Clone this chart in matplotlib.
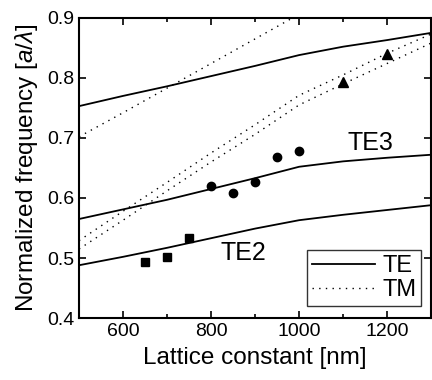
import matplotlib
matplotlib.use("Agg")
import matplotlib.pyplot as plt
from matplotlib.ticker import MultipleLocator

plt.rcParams['font.family'] = ['Liberation Sans', 'DejaVu Sans']
plt.rcParams['mathtext.fontset'] = 'custom'
plt.rcParams['mathtext.rm'] = 'Liberation Sans'
plt.rcParams['mathtext.it'] = 'Liberation Sans:italic'

# Calculated bands (lattice constant in nm)
lattice = [500, 600, 700, 800, 900, 1000, 1100, 1200, 1300]
te_upper = [0.753, 0.770, 0.786, 0.803, 0.820, 0.838, 0.852, 0.863, 0.875]
te3 = [0.565, 0.581, 0.597, 0.615, 0.633, 0.652, 0.661, 0.667, 0.672]
te2 = [0.488, 0.502, 0.517, 0.533, 0.549, 0.563, 0.572, 0.580, 0.588]

tm_top_x = [500, 600, 700, 800, 900, 1000]
tm_top = [0.702, 0.742, 0.783, 0.824, 0.865, 0.906]
tm_a = [0.529, 0.578, 0.626, 0.675, 0.722, 0.771, 0.805, 0.841, 0.873]
tm_b = [0.515, 0.563, 0.612, 0.660, 0.706, 0.755, 0.790, 0.824, 0.858]

# Measured points
sq_x = [650, 700, 750]
sq_y = [0.494, 0.502, 0.533]
ci_x = [800, 850, 900, 950, 1000]
ci_y = [0.620, 0.609, 0.626, 0.669, 0.679]
tr_x = [1100, 1200]
tr_y = [0.793, 0.840]

fig = plt.figure(figsize=(4.32, 3.80), dpi=100)
ax = fig.add_axes([0.183, 0.163, 0.815, 0.79])

te_kw = dict(color='black', lw=1.3)
tm_kw = dict(color='black', lw=1.0, linestyle=(0, (1, 3.8)))

ax.plot(lattice, te_upper, label='TE', **te_kw)
ax.plot(lattice, te3, **te_kw)
ax.plot(lattice, te2, **te_kw)
ax.plot(tm_top_x, tm_top, label='TM', **tm_kw)
ax.plot(lattice, tm_a, **tm_kw)
ax.plot(lattice, tm_b, **tm_kw)

ax.plot(sq_x, sq_y, 's', color='black', ms=5.2, ls='none')
ax.plot(ci_x, ci_y, 'o', color='black', ms=6, ls='none')
ax.plot(tr_x, tr_y, '^', color='black', ms=7, ls='none')

ax.text(1161, 0.692, 'TE3', fontsize=18, ha='center', va='center')
ax.text(873, 0.509, 'TE2', fontsize=18, ha='center', va='center')

ax.set_xlim(500, 1300)
ax.set_ylim(0.4, 0.9)
ax.xaxis.set_major_locator(MultipleLocator(200))
ax.xaxis.set_minor_locator(MultipleLocator(100))
ax.set_yticks([0.4, 0.5, 0.6, 0.7, 0.8, 0.9])
ax.set_yticklabels(['0.4', '0.5', '0.6', '0.7', '0.8', '0.9'])
ax.tick_params(which='both', direction='in', top=True, right=True, labelsize=14, width=1.2)
ax.tick_params(which='major', length=5)
ax.tick_params(which='minor', length=3)
for s in ax.spines.values():
    s.set_linewidth(1.5)

ax.set_xlabel('Lattice constant [nm]', fontsize=17.5, labelpad=5)
ax.set_ylabel(r'Normalized frequency [$\mathit{a}/\lambda$]', fontsize=17.5, labelpad=5)

leg = ax.legend(loc='lower right', bbox_to_anchor=(0.972, 0.04), borderaxespad=0,
                fontsize=17, handlelength=2.7, frameon=True, fancybox=False,
                handletextpad=0.3, borderpad=0.2, labelspacing=0.1)
leg.get_frame().set_edgecolor('black')
leg.get_frame().set_linewidth(1.0)

fig.savefig('out.png', dpi=100)
